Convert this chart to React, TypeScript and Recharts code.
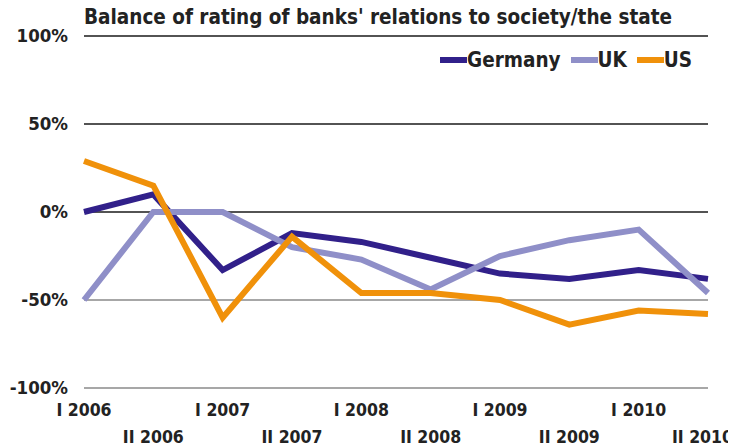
import React from "react";
import { LineChart, Line, XAxis, YAxis, ReferenceLine } from "recharts";

const periods = ["I 2006", "II 2006", "I 2007", "II 2007", "I 2008", "II 2008", "I 2009", "II 2009", "I 2010", "II 2010"];
const germany = [0, 10, -33, -12, -17, -26, -35, -38, -33, -38];
const uk = [-50, 0, 0, -20, -27, -44, -25, -16, -10, -46];
const us = [29, 15, -60, -14, -46, -46, -50, -64, -56, -58];
const yTicks = [-100, -50, 0, 50, 100];

const series = [
  { key: "Germany", color: "#31208A", values: germany },
  { key: "UK", color: "#8F8FC8", values: uk },
  { key: "US", color: "#F0910A", values: us },
];

const data = periods.map((p, i) => ({
  period: p,
  Germany: germany[i],
  UK: uk[i],
  US: us[i],
}));

const FONT = "'DejaVu Sans Condensed', 'DejaVu Sans', sans-serif";

const XTick = (props: any) => {
  const { x, y, payload, index } = props;
  const second = index % 2 === 1;
  const last = index === periods.length - 1;
  return (
    <text
      x={last ? x + 25 : x}
      y={y + (second ? 47 : 20)}
      textAnchor={last ? "end" : "middle"}
      fontFamily={FONT}
      fontWeight="bold"
      fontSize={17.5}
      fill="#222"
    >
      {payload.value}
    </text>
  );
};

const YTick = (props: any) => {
  const { x, y, payload } = props;
  return (
    <text
      x={x - 8}
      y={y + 6}
      textAnchor="end"
      fontFamily={FONT}
      fontWeight="bold"
      fontSize={18.5}
      fill="#222"
    >
      {payload.value + "%"}
    </text>
  );
};

const gridColor = (v: number) => (v < 0 ? "#8a8a8a" : "#1a1a1a");

export default function App() {
  return (
    <div style={{ position: "relative", width: 728, height: 440 }}>
      <div
        style={{
          position: "absolute",
          left: 76,
          top: -3,
          lineHeight: "24px",
          fontFamily: FONT,
          fontWeight: "bold",
          fontSize: 20.5,
          color: "#222",
          whiteSpace: "nowrap",
        }}
      >
        Balance of rating of banks' relations to society/the state
      </div>
      <div
        style={{
          position: "absolute",
          left: 432,
          top: 40,
          lineHeight: "24px",
          display: "flex",
          alignItems: "center",
          fontFamily: FONT,
          fontWeight: "bold",
          fontSize: 20.5,
          color: "#222",
          zIndex: 2,
        }}
      >
        {series.map((s) => (
          <div key={s.key} style={{ display: "flex", alignItems: "center", marginRight: 10 }}>
            <div style={{ width: 27, height: 6, background: s.color }} />
            <span>{s.key}</span>
          </div>
        ))}
      </div>
      <LineChart
        width={728}
        height={440}
        data={data}
        margin={{ top: 28, right: 28, bottom: 0, left: 0 }}
      >
        {yTicks.map((v) => (
          <ReferenceLine key={v} y={v} stroke={gridColor(v)} strokeWidth={1.5} />
        ))}
        <XAxis
          dataKey="period"
          axisLine={false}
          tickLine={false}
          interval={0}
          height={60}
          tick={<XTick />}
        />
        <YAxis
          domain={[-100, 100]}
          ticks={yTicks}
          axisLine={false}
          tickLine={false}
          width={76}
          tick={<YTick />}
        />
        {series.map((s) => (
          <Line
            key={s.key}
            dataKey={s.key}
            stroke={s.color}
            strokeWidth={6}
            dot={false}
            isAnimationActive={false}
            strokeLinejoin="miter"
          />
        ))}
      </LineChart>
    </div>
  );
}
